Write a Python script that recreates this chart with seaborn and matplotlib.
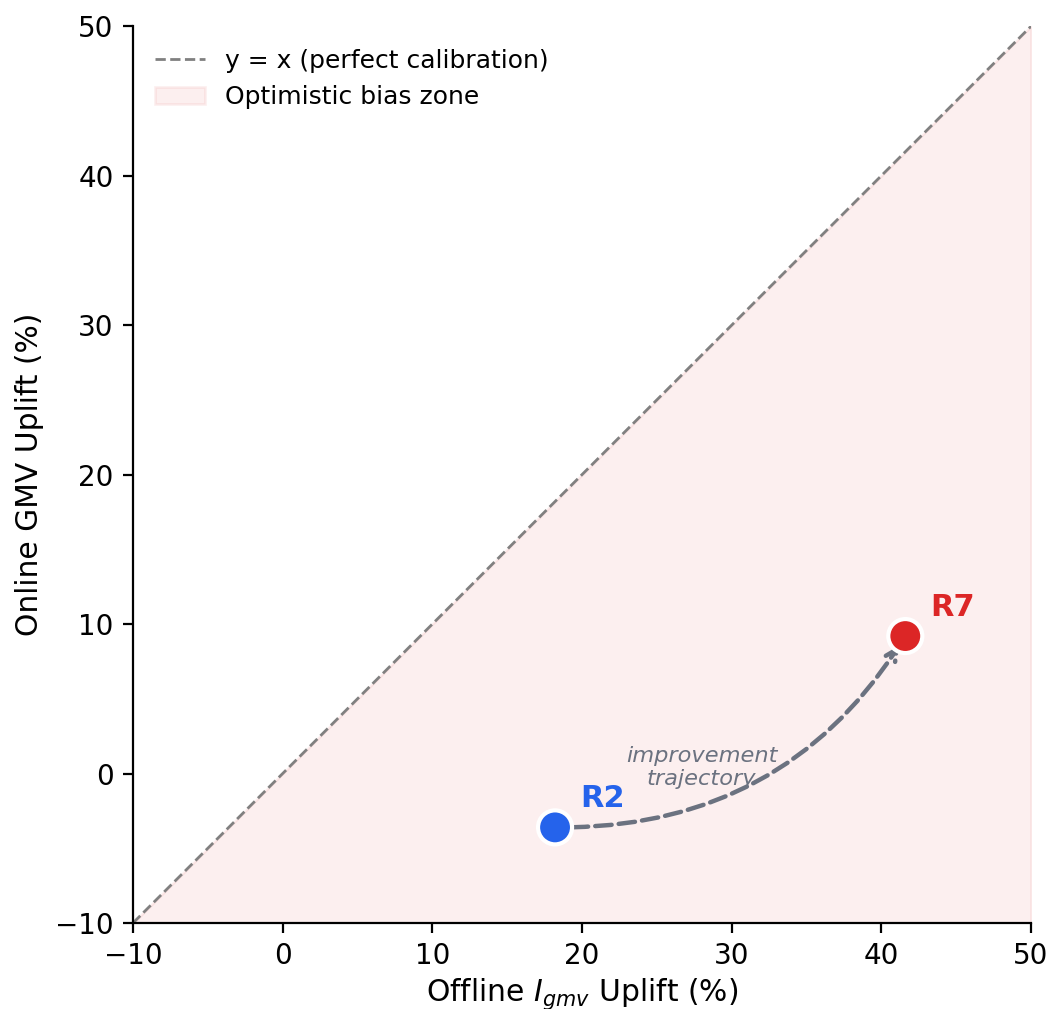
import numpy as np
import pandas as pd
import matplotlib
matplotlib.use('Agg')
import matplotlib.pyplot as plt
import seaborn as sns

# Data
runs = ['R2', 'R7']
offline_uplift = [18.2, 41.6]
online_uplift = [-3.6, 9.2]
run_colors = ['#2563eb', '#dc2626']
diag = [-10, 50]

points = pd.DataFrame({'run': runs, 'offline': offline_uplift, 'online': online_uplift})

sns.set_style('ticks', {'axes.edgecolor': 'black', 'text.color': 'black',
                        'axes.labelcolor': 'black', 'xtick.color': 'black',
                        'ytick.color': 'black'})
plt.rcParams['font.family'] = ['DejaVu Sans']

fig, ax = plt.subplots(figsize=(5.255, 5.045), dpi=200)
fig.subplots_adjust(left=0.1265, right=0.981, bottom=0.0852, top=0.974)

# optimistic bias zone below y = x
ax.fill_between(diag, [-10, -10], diag, color='#dc2626', alpha=0.07,
                label='Optimistic bias zone')
sns.lineplot(x=diag, y=diag, ax=ax, color='gray', linestyle='--', lw=1.0,
             label='y = x (perfect calibration)')

sns.scatterplot(data=points, x='offline', y='online', hue='run',
                palette=run_colors, s=150, edgecolor='white', linewidth=1.5,
                zorder=5, legend=False, ax=ax)

for r, x, y, c in zip(runs, offline_uplift, online_uplift, run_colors):
    ax.annotate(r, (x, y), xytext=(9, 5), textcoords='offset points',
                ha='left', va='bottom', fontsize=11, fontweight='bold', color=c)

# trajectory arrow
ax.annotate('', xy=(offline_uplift[1], online_uplift[1]),
            xytext=(offline_uplift[0], online_uplift[0]),
            arrowprops=dict(arrowstyle='->', color='#6b7280', lw=1.6,
                            linestyle='--', connectionstyle='arc3,rad=0.28',
                            shrinkA=6, shrinkB=4))
ax.text(28, 0.4, 'improvement\ntrajectory', ha='center', va='center',
        fontsize=8.1, style='italic', color='#6b7280')

ax.set_xlim(-10, 50)
ax.set_ylim(-10, 50)
ax.set_xlabel('Offline $I_{gmv}$ Uplift (%)', fontsize=10.7, labelpad=2)
ax.set_ylabel('Online GMV Uplift (%)', fontsize=10.7)
ax.tick_params(labelsize=10)
sns.despine(ax=ax)

handles, labels = ax.get_legend_handles_labels()
order = [labels.index('y = x (perfect calibration)'), labels.index('Optimistic bias zone')]
ax.legend([handles[i] for i in order], [labels[i] for i in order],
          loc='upper left', frameon=False, fontsize=9)

fig.savefig('out.png', dpi=200)
